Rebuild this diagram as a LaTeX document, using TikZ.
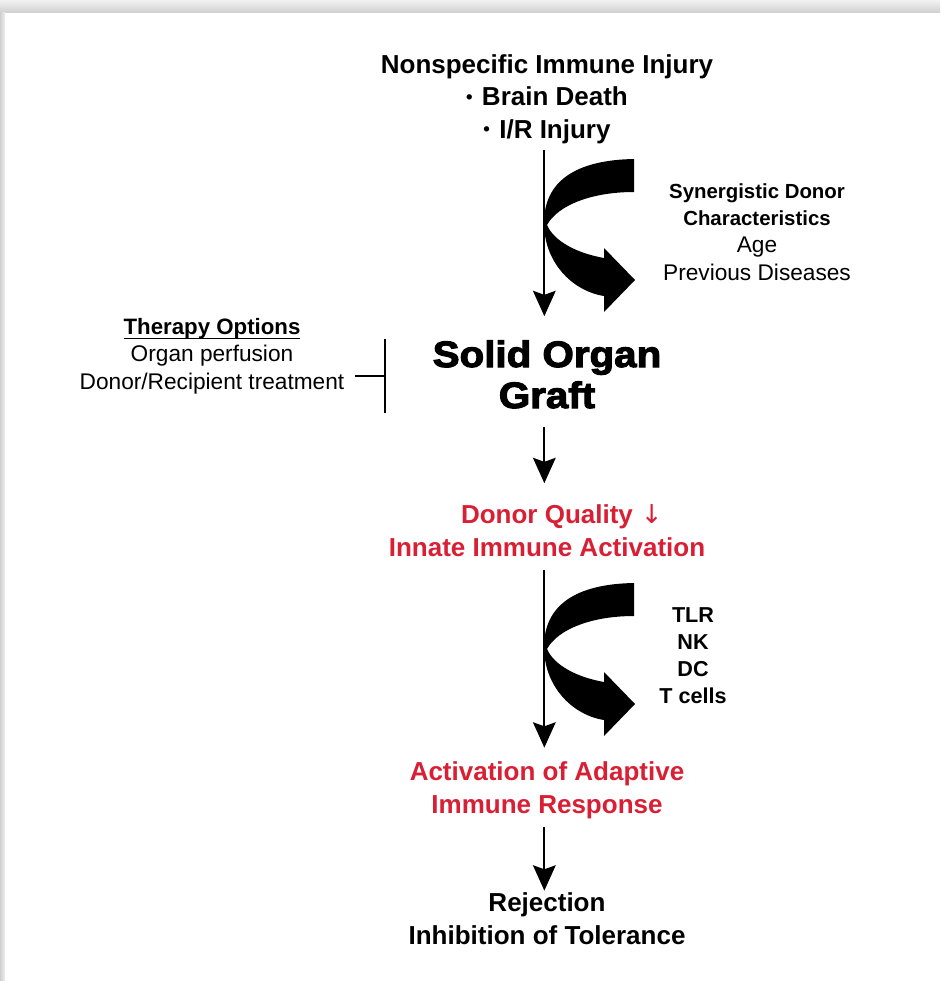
\documentclass[tikz,border=0pt]{standalone}
\usepackage{fontspec}
\setmainfont{Liberation Sans}
\newfontfamily\heavyfont{Liberation Sans}[BoldFeatures={FakeBold=3,FakeStretch=1.1}]
\newfontfamily\symbolfont{DejaVu Sans}
\usepackage{tikz}
\usetikzlibrary{arrows.meta}
\definecolor{donorred}{RGB}{217,31,52}
\newcommand\therapyrule[1]{\setbox0\hbox{#1}\rlap{\rule[-3.8pt]{\wd0}{1.2pt}}\box0}
\newcommand\injurydot{\raisebox{1.6pt}{\fontsize{14}{14}\selectfont•}\hspace{7pt}}
\tikzset{
  headline/.style={font=\fontsize{19.5}{24.2}\selectfont\bfseries, align=center, anchor=base, inner sep=0pt},
  redline/.style={headline, text=donorred},
  graftline/.style={font=\heavyfont\bfseries\fontsize{27.5}{30.75}\selectfont, align=center, anchor=base, inner sep=0pt},
  sidenote/.style={font=\fontsize{17}{20.5}\selectfont, align=center, anchor=base, inner sep=0pt},
  flow/.style={-{Stealth[length=19pt,width=17pt,inset=3pt]}, line width=1.5pt},
  inhibit/.style={line width=1.5pt},
  donorcurl/.pic={
    \fill (0,0) .. controls (-58,1) and (-90,22) .. (-90,64)
      .. controls (-90,103) and (-62,132) .. (-30,137)
      -- (-30,153) -- (1,121) -- (-30,89) -- (-30,99)
      .. controls (-58,94) and (-80,82) .. (-87,66)
      .. controls (-76,46) and (-42,33) .. (0,33) -- cycle;
  }
}

\begin{document}
\begin{tikzpicture}[x=0.75pt, y=-0.75pt]
  % page and shadow
  \useasboundingbox (0,0) rectangle (940,981);
  \fill[white] (0,0) rectangle (940,981);
  \shade[top color=gray!10, bottom color=gray!38] (0,0) rectangle (940,13);
  \shade[left color=gray!38, right color=gray!12] (0,13) rectangle (5,981);

  % main column (nodes sit on the baseline of their last line)
  \node[headline] (injury) at (547,138) {Nonspecific Immune Injury\\\injurydot Brain Death\\\injurydot I/R Injury};
  \node[graftline] (graft) at (547,408) {Solid Organ\\Graft};
  \node[redline] (quality) at (547,556) {Donor Quality\rlap{\hspace{6pt}\symbolfont\mdseries ↓}\\Innate Immune Activation};
  \node[redline] (adaptive) at (547,813) {Activation of Adaptive\\Immune Response};
  \node[headline] (rejection) at (547,944) {Rejection\\Inhibition of Tolerance};

  % side notes
  \node[sidenote] (donorchar) at (757,280) {{\bfseries\fontsize{15.3}{20.5}\selectfont Synergistic Donor}\\{\bfseries\fontsize{15.3}{20.5}\selectfont Characteristics}\\Age\\Previous Diseases};
  \node[sidenote, font=\fontsize{16.2}{20.25}\selectfont\bfseries] (cells) at (693,703) {TLR\\NK\\DC\\T cells};
  \node[sidenote] (therapy) at (212,389) {\therapyrule{\bfseries\fontsize{16.7}{20.5}\selectfont Therapy Options}\\Organ perfusion\\Donor/Recipient treatment};

  % arrows
  \draw[flow, shorten <=4.5pt, shorten >=18pt] ([xshift=-2pt]injury.south) -- ([xshift=-2pt]graft.north);
  \draw[flow, shorten <=14pt, shorten >=16pt] ([xshift=-2pt]graft.south) -- ([xshift=-2pt]quality.north);
  \draw[flow, shorten <=10pt, shorten >=10.5pt] ([xshift=-2pt]quality.south) -- ([xshift=-2pt]adaptive.north);
  \draw[flow, shorten <=6pt, shorten >=1.5pt] ([xshift=-2pt]adaptive.south) -- ([xshift=-2pt]rejection.north);

  \pic at (634,159) {donorcurl};
  \pic at (634,583) {donorcurl};

  % therapy blocks the graft
  \coordinate (bar) at (385,376);
  \draw[inhibit] ([xshift=8pt]therapy.east |- bar) -- (bar);
  \draw[inhibit] (bar) ++(0,-37) -- ++(0,74);
\end{tikzpicture}
\end{document}
